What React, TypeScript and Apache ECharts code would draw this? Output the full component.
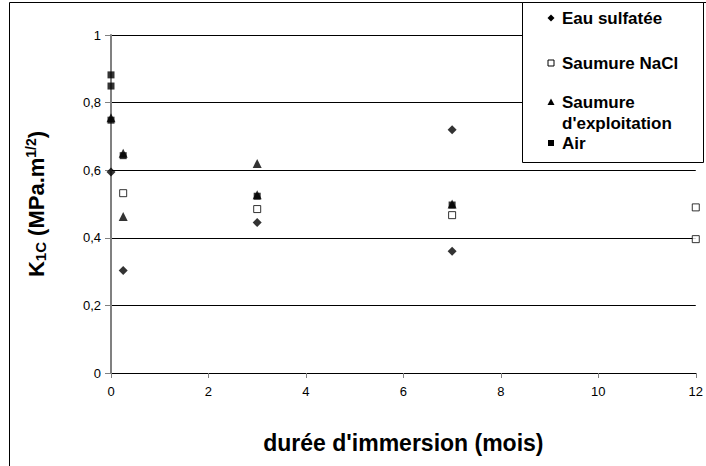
import React, { useEffect, useRef } from "react";
import * as echarts from "echarts";

const xTicks = [0, 2, 4, 6, 8, 10, 12];
const yTicks = [0, 0.2, 0.4, 0.6, 0.8, 1];

const eauSulfatee: [number, number][] = [
  [0, 0.595], [0.25, 0.303], [3, 0.445], [7, 0.72], [7, 0.36],
];
const saumureNaCl: [number, number][] = [
  [0.25, 0.532], [3, 0.485], [7, 0.467], [12, 0.49], [12, 0.396],
];
const saumureExploitation: [number, number][] = [
  [0, 0.755], [0.25, 0.65], [0.25, 0.463], [3, 0.62], [3, 0.527], [7, 0.5],
];
const air: [number, number][] = [
  [0, 0.882], [0, 0.849], [0, 0.748], [0.25, 0.643], [3, 0.523], [7, 0.497],
];

const legendNames = ["Eau sulfatée", "Saumure NaCl", "Saumure\nd'exploitation", "Air"];

const FONT = "'Liberation Sans', Arial, sans-serif";

export default function App() {
  const ref = useRef<HTMLDivElement>(null);
  useEffect(() => {
    if (!ref.current) return;
    const chart = echarts.init(ref.current, undefined, { renderer: "svg" });
    const lx = 551;
    const tx = 562;
    const legendY = [18, 63, 102, 143];
    const markerShapes: any[] = [
      { type: "polygon", shape: { points: [[lx, legendY[0] - 3.5], [lx + 3.5, legendY[0]], [lx, legendY[0] + 3.5], [lx - 3.5, legendY[0]]] }, style: { fill: "#000" } },
      { type: "rect", shape: { x: lx - 3, y: legendY[1] - 3, width: 6, height: 6 }, style: { fill: "#fff", stroke: "#000", lineWidth: 1 } },
      { type: "polygon", shape: { points: [[lx, legendY[2] - 3.5], [lx + 3.5, legendY[2] + 3], [lx - 3.5, legendY[2] + 3]] }, style: { fill: "#000" } },
      { type: "rect", shape: { x: lx - 3, y: legendY[3] - 3, width: 6, height: 6 }, style: { fill: "#000" } },
    ];
    const legendText = (text: string, y: number) => ({
      type: "text", z: 101, x: tx, y,
      style: { text, font: `bold 17px ${FONT}`, fill: "#000", textVerticalAlign: "middle" },
    });
    chart.setOption({
      animation: false,
      backgroundColor: "#fff",
      grid: { left: 111, right: 10, top: 35, bottom: 93, containLabel: false },
      xAxis: {
        type: "value",
        min: 0,
        max: 12,
        interval: 2,
        name: "durée d'immersion (mois)",
        nameLocation: "middle",
        nameGap: 58,
        nameTextStyle: { fontFamily: FONT, fontSize: 23, fontWeight: "bold", color: "#000" },
        axisLine: { show: true, lineStyle: { color: "#000", width: 1 } },
        axisTick: { show: true, length: 5, lineStyle: { color: "#808080" } },
        axisLabel: { fontFamily: FONT, fontSize: 13, color: "#000", margin: 12, formatter: (v: number) => String(v) },
        splitLine: { show: false },
      },
      yAxis: {
        type: "value",
        min: 0,
        max: 1,
        interval: 0.2,
        name: "{b|K}{sub|1C}{b| (MPa.m}{sup|1/2}{b|)}",
        nameLocation: "middle",
        nameGap: 62,
        nameRotate: 90,
        nameTextStyle: {
          fontFamily: FONT, fontSize: 22, fontWeight: "bold", color: "#000",
          rich: {
            b: { fontFamily: FONT, fontSize: 22, fontWeight: "bold", color: "#000", lineHeight: 26 },
            sub: { fontFamily: FONT, fontSize: 15, fontWeight: "bold", color: "#000", lineHeight: 26, padding: [8, 0, 0, 0] },
            sup: { fontFamily: FONT, fontSize: 14, fontWeight: "bold", color: "#000", lineHeight: 26, padding: [0, 0, 10, 0] },
          },
        },
        axisLine: { show: true, onZero: false, lineStyle: { color: "#808080", width: 2 } },
        axisTick: { show: true, length: 6, lineStyle: { color: "#808080" } },
        axisLabel: {
          fontFamily: FONT, fontSize: 13, color: "#000", margin: 10,
          formatter: (v: number) => (v === 0 ? "0" : v === 1 ? "1" : v.toFixed(1).replace(".", ",")),
        },
        splitLine: { show: true, lineStyle: { color: "#000", width: 1 } },
      },
      series: [
        { name: legendNames[0], type: "scatter", data: eauSulfatee, symbol: "diamond", symbolSize: 9, itemStyle: { color: "#000" }, z: 2 },
        { name: legendNames[1], type: "scatter", data: saumureNaCl, symbol: "rect", symbolSize: 7, itemStyle: { color: "#fff", borderColor: "#000", borderWidth: 1 }, z: 3 },
        { name: legendNames[2], type: "scatter", data: saumureExploitation, symbol: "triangle", symbolSize: 9, itemStyle: { color: "#000" }, z: 4 },
        { name: legendNames[3], type: "scatter", data: air, symbol: "rect", symbolSize: 7, itemStyle: { color: "#000" }, z: 5 },
      ],
      graphic: [
        { type: "rect", z: 100, shape: { x: 9.5, y: 2.5, width: 900, height: 900 }, style: { fill: "none", stroke: "#000", lineWidth: 1 } },
        { type: "rect", z: 100, shape: { x: 522.5, y: 2.5, width: 181, height: 160 }, style: { fill: "#fff", stroke: "#000", lineWidth: 1 } },
        ...markerShapes.map((m) => ({ ...m, z: 101 })),
        legendText("Eau sulfatée", legendY[0]),
        legendText("Saumure NaCl", legendY[1]),
        legendText("Saumure", legendY[2]),
        legendText("d'exploitation", legendY[2] + 21),
        legendText("Air", legendY[3]),
      ],
    });
    return () => chart.dispose();
  }, []);
  return <div ref={ref} style={{ position: "fixed", left: 0, top: 0, width: 706, height: 466 }} />;
}
